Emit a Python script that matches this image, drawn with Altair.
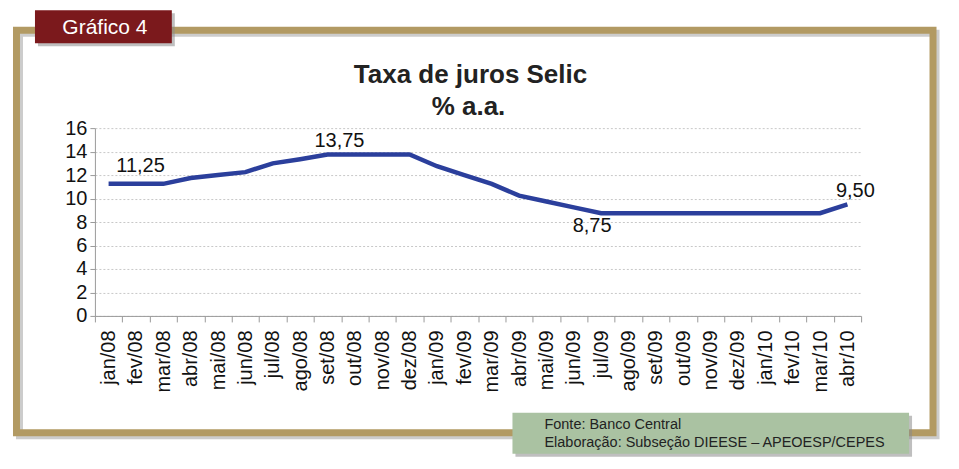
import altair as alt
import pandas as pd

months = ["jan/08", "fev/08", "mar/08", "abr/08", "mai/08", "jun/08", "jul/08",
          "ago/08", "set/08", "out/08", "nov/08", "dez/08", "jan/09", "fev/09",
          "mar/09", "abr/09", "mai/09", "jun/09", "jul/09", "ago/09", "set/09",
          "out/09", "nov/09", "dez/09", "jan/10", "fev/10", "mar/10", "abr/10"]
selic = [11.25, 11.25, 11.25, 11.75, 12.0, 12.25, 13.0,
         13.35, 13.75, 13.75, 13.75, 13.75, 12.75, 12.0,
         11.25, 10.25, 9.75, 9.25, 8.75, 8.75, 8.75,
         8.75, 8.75, 8.75, 8.75, 8.75, 8.75, 9.5]
y_ticks = [0, 2, 4, 6, 8, 10, 12, 14, 16]
labeled = {"jan/08": "11,25", "set/08": "13,75", "jul/09": "8,75", "abr/10": "9,50"}

title1 = "Taxa de juros Selic"
title2 = "% a.a."
tag = "Gráfico 4"
src1 = "Fonte: Banco Central"
src2 = "Elaboração: Subseção DIEESE – APEOESP/CEPES"

df = pd.DataFrame({"mes": months, "taxa": selic})
df["rot"] = df["mes"].map(labeled).fillna("")

FONT = "Liberation Sans"
one = alt.Data(values=[{"k": 1}])

xenc = alt.X("mes:N", sort=months, bandPosition=0.5,
             scale=alt.Scale(type="band", paddingInner=0, paddingOuter=0),
             axis=alt.Axis(title=None, labelAngle=-90, labelFontSize=20, labelFont=FONT,
                           labelColor="#111", domainColor="#9a9a9a", tickColor="#9a9a9a",
                           tickSize=6, tickBand="extent", labelPadding=8, grid=False))
yenc = alt.Y("taxa:Q", scale=alt.Scale(domain=[0, 16], nice=False),
             axis=alt.Axis(title=None, values=y_ticks, labelFontSize=20, labelFont=FONT,
                           labelColor="#111", domainColor="#9a9a9a", tickColor="#9a9a9a",
                           tickSize=5, labelPadding=3, grid=True, gridColor="#c8c8c8",
                           gridDash=[2, 2], gridWidth=1))

# decorations
def rect(x, x2, y, y2, **kw):
    return alt.Chart(one).mark_rect(**kw).encode(
        x=alt.value(x), x2=alt.value(x2), y=alt.value(y), y2=alt.value(y2))

def rect_stroke(x, x2, y, y2, **kw):
    return alt.Chart(one).mark_rect(fill=None, **kw).encode(
        x=alt.value(x), x2=alt.value(x2), y=alt.value(y), y2=alt.value(y2))

def txt(x, y, text, **kw):
    return alt.Chart(one).mark_text(font=FONT, **kw).encode(
        x=alt.value(x), y=alt.value(y), text=alt.value(text))

frame_shadow = rect_stroke(-75.5, 842, -95, 308, stroke="#9a9a9a", strokeWidth=7, opacity=0.5)
frame = rect_stroke(-78.5, 839, -98, 305, stroke="#B29A63", strokeWidth=7)
red_shadow = rect(-57, 80, -115, -82, color="#8a8a8a", opacity=0.55)
red = rect(-60, 77, -118, -85, color="#7B191C")
red_text = txt(10, -100, tag, fontSize=21, color="white", align="center", baseline="middle")
green_shadow = rect(421, 818, 288, 329, color="#8a8a8a", opacity=0.55)
green = rect(418, 815, 285, 326, color="#AAC2A2")
g1 = txt(450, 301, src1, fontSize=14.5, color="#222", align="left", baseline="alphabetic")
g2 = txt(450, 319, src2, fontSize=14.5, color="#222", align="left", baseline="alphabetic")
t1 = txt(376, -45, title1, fontSize=26, fontWeight="bold", color="#222", align="center",
         baseline="alphabetic")
t2 = txt(374, -13, title2, fontSize=26, fontWeight="bold", color="#222", align="center",
         baseline="alphabetic")

base = alt.Chart(df)
line = base.mark_line(color="#2B3F9C", strokeWidth=4.5).encode(x=xenc, y=yenc)

def lab(mes, dx, dy):
    return base.transform_filter(alt.datum.mes == mes).mark_text(
        font=FONT, fontSize=20, color="#111", dx=dx, dy=dy, align="center",
        baseline="alphabetic").encode(x=xenc, y=yenc, text="rot:N")

labels = [lab("jan/08", 32, -12), lab("set/08", 12, -8), lab("jul/09", -9, 19),
          lab("abr/10", 8, -7)]

chart = alt.layer(
    frame_shadow, frame, red_shadow, red, red_text, t1, t2,
    line, *labels, green_shadow, green, g1, g2
).properties(
    width=767, height=188,
    padding={"left": 87, "top": 120, "right": 90, "bottom": 150},
    autosize=alt.AutoSizeParams(type="none"),
    background="white",
).configure_view(stroke=None)

chart.save("out.html", embed_options={"renderer": "svg", "actions": False})
